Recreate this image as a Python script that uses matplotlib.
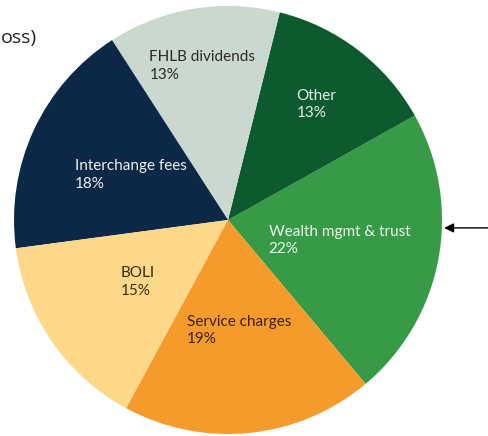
import numpy as np
import matplotlib
matplotlib.use('Agg')
import matplotlib.pyplot as plt

plt.rcParams['font.family'] = ['Lato', 'DejaVu Sans']

# slices, counterclockwise starting from the lower right
labels = ['Wealth mgmt & trust', 'Other', 'FHLB dividends',
          'Interchange fees', 'BOLI', 'Service charges']
shares = [22, 13, 13, 18, 15, 19]
colors = ['#379a47', '#0c5a2e', '#cbd8cf', '#0b2947', '#fcd888', '#f59b2b']
txt_colors = ['#eef5ee', '#e8f0ea', '#2a2a2a', '#eef0f4', '#3a2a10', '#3a2208']
label_r = [0.53, 0.68, 0.73, 0.50, 0.51, 0.52]

start = -50

fig = plt.figure(figsize=(4.88, 4.36), dpi=100)
ax = fig.add_axes([0, 0, 1, 1])

wedges, _ = ax.pie(shares, colors=colors, startangle=start, counterclock=True,
                   radius=1.0, wedgeprops=dict(linewidth=0))

for w, lab, s, c, r in zip(wedges, labels, shares, txt_colors, label_r):
    mid = np.deg2rad((w.theta1 + w.theta2) / 2)
    ax.text(r * np.cos(mid), r * np.sin(mid), '%s\n%d%%' % (lab, s),
            ha='center', va='center', multialignment='left',
            fontsize=11, color=c, linespacing=1.3)

ax.set_xlim(-228 / 214, 260 / 214)
ax.set_ylim(-216 / 214, 220 / 214)
ax.set_aspect('auto')
ax.axis('off')

# arrow pointing at the wealth slice
ax.annotate('', xy=(1.01, -0.037), xytext=(1.23, -0.037),
            arrowprops=dict(arrowstyle='-|>', color='black', lw=1,
                            mutation_scale=14, shrinkA=0, shrinkB=0))

fig.text(0.002, 0.913, 'oss)', fontsize=14, color='#222222', ha='left', va='center',
         family=['Open Sans', 'DejaVu Sans'])

fig.savefig('out.png', dpi=100)
